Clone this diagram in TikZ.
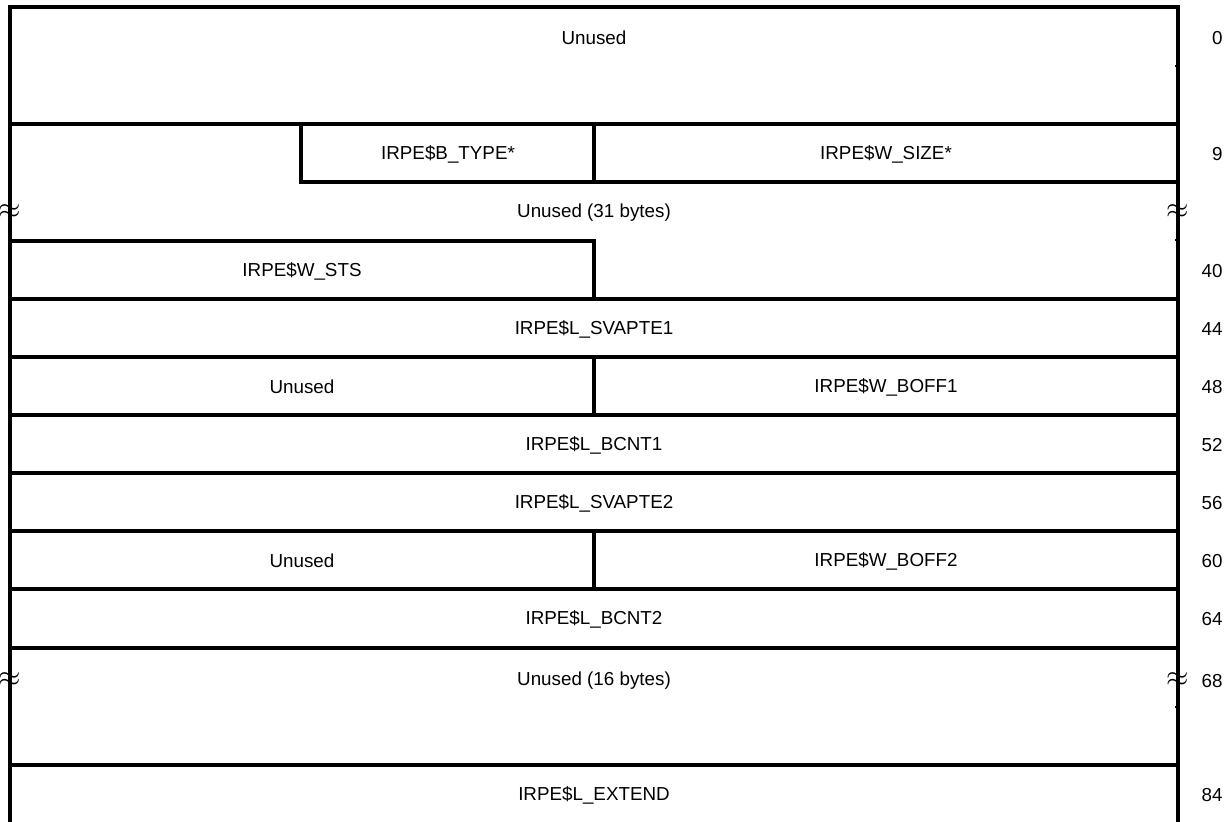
\documentclass[tikz,border=0pt]{standalone}
\usepackage{fontspec}
\setmainfont{Liberation Sans}
\usetikzlibrary{positioning}

\begin{document}
\begin{tikzpicture}[x=0.5pt,y=-0.5pt,
  field_text/.style={font=\fontsize{9.4}{11}\selectfont,inner sep=0pt},
  offset_text/.style={field_text,anchor=east},
  wall/.style={line width=1.6pt,line cap=rect},
  brk/.style={inner sep=0pt,font=\fontsize{15}{15}\selectfont}]

\useasboundingbox (0,0) rectangle (1231,822);

% outline
\draw[wall] (10,822) -- (10,7) -- (1178,7) -- (1178,822);
\foreach \y in {66,240,707}{\draw[line width=0.8pt] (1178,\y) -- ++(-3,0);}

% row borders
\foreach \y in {124,299,357,415,473,531,589,648,765}{\draw[wall] (10,\y) -- (1178,\y);}
\draw[wall] (301,124) -- (301,182) -- (1178,182);
\draw[wall] (594,124) -- (594,182);
\draw[wall] (10,241) -- (594,241) -- (594,299);
\draw[wall] (594,357) -- (594,415);
\draw[wall] (594,531) -- (594,589);

% break marks
\foreach \y/\n in {212/a,680/b}{
  \node[brk] (brkL\n) at (10,\y) {$\approx$};
  \node[brk] (brkR\n) at (1178,\y) {$\approx$};
}

% fields
\node[field_text] (unused0) at (594,38) {Unused};
\node[field_text] (btype) at (448,154) {IRPE\$B\_TYPE*};
\node[field_text] (wsize) at (886,154) {IRPE\$W\_SIZE*};
\node[field_text] (unused31) at (594,213) {Unused (31 bytes)};
\node[field_text] (wsts) at (302,271) {IRPE\$W\_STS};
\node[field_text] (svapte1) at (594,329) {IRPE\$L\_SVAPTE1};
\node[field_text] (unused48) at (302,387) {Unused};
\node[field_text] (boff1) at (886,387) {IRPE\$W\_BOFF1};
\node[field_text] (bcnt1) at (594,445) {IRPE\$L\_BCNT1};
\node[field_text] (svapte2) at (594,503) {IRPE\$L\_SVAPTE2};
\node[field_text] (unused60) at (302,561) {Unused};
\node[field_text] (boff2) at (886,561) {IRPE\$W\_BOFF2};
\node[field_text] (bcnt2) at (594,619) {IRPE\$L\_BCNT2};
\node[field_text] (unused16) at (594,681) {Unused (16 bytes)};
\node[field_text] (extend) at (594,795) {IRPE\$L\_EXTEND};

% offsets
\foreach \y/\n in {38/0,154/9,271/40,329/44,387/48,445/52,503/56,561/60,619/64,681/68,795/84}{
  \node[offset_text] (off\n) at (1223,\y) {\n};
}

\end{tikzpicture}
\end{document}
